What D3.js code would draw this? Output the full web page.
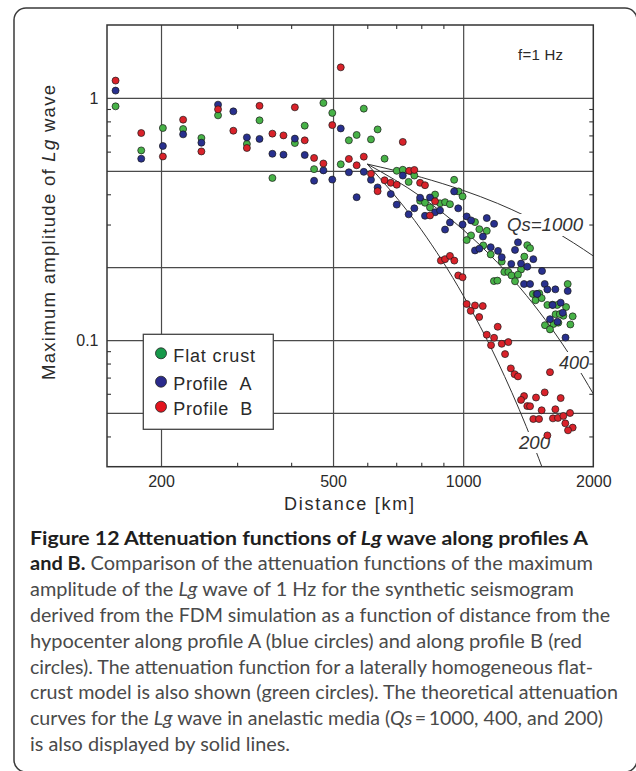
<!DOCTYPE html>
<html>
<head>
<meta charset="utf-8">
<script src="https://cdn.jsdelivr.net/npm/d3@7"></script>
<style>
  html, body { margin: 0; padding: 0; background: #fff; }
  svg { display: block; }
</style>
</head>
<body>
<svg id="chart" width="636" height="771"></svg>
<script>
// ---------------- data ----------------
const seriesNames = ["Flat crust", "Profile\u00a0\u00a0A", "Profile\u00a0\u00a0B"];

const flatDist = [157,180,202,225,248,271,316,338,362,408,430,452,475,498,589,634,567,544,612,521,658,702,725,771,748,795,816,861,838,884,908,932,953,976,997,1065,1090,1134,1043,1019,1113,1158,1228,1407,1428,1385,1361,1245,1272,1294,1339,1318,1178,1200,1745,1450,1478,1500,1470,1519,1566,1609,1650,1730,1705,1636,1673,1792,1546,1618,1660,1588,1770];
const flatAmp = [0.923,0.607,0.751,0.744,0.683,0.847,0.645,0.808,0.467,0.651,0.768,0.508,0.953,0.867,0.903,0.741,0.703,0.668,0.674,0.532,0.561,0.500,0.505,0.478,0.450,0.376,0.369,0.399,0.353,0.367,0.371,0.364,0.459,0.411,0.392,0.307,0.287,0.2825,0.2706,0.2588,0.246,0.2258,0.2109,0.2465,0.2395,0.2211,0.1957,0.1911,0.1911,0.1849,0.1863,0.1749,0.1752,0.176,0.1704,0.155,0.155,0.1558,0.146,0.149,0.1396,0.140,0.1396,0.1369,0.126,0.1278,0.128,0.1253,0.1152,0.1165,0.118,0.1107,0.116];

const profADist = [157,180,202,225,248,271,294,316,338,362,384,408,430,452,475,498,521,544,589,612,567,634,680,702,748,725,771,795,838,861,884,816,932,908,974,953,997,1019,1043,1134,1179,1111,1065,1090,1158,1204,1228,1339,1318,1453,1292,1361,1407,1522,1383,1428,1544,1566,1634,1745,1484,1611,1681,1700,1588,1652,1725];
const profAAmp = [1.072,0.561,0.633,0.707,0.653,0.938,0.880,0.687,0.677,0.588,0.583,0.679,0.581,0.455,0.502,0.460,0.748,0.493,0.495,0.459,0.389,0.427,0.401,0.3625,0.3305,0.478,0.350,0.387,0.388,0.337,0.343,0.326,0.306,0.286,0.350,0.411,0.300,0.324,0.312,0.319,0.302,0.2676,0.2345,0.2385,0.2418,0.2335,0.2199,0.2532,0.2357,0.2159,0.2063,0.207,0.201,0.1929,0.1704,0.1704,0.1704,0.1618,0.162,0.1595,0.155,0.1395,0.1427,0.1297,0.122,0.119,0.1024];

const profBDist = [157,180,202,225,248,271,294,316,338,362,384,408,430,452,475,498,521,544,567,589,612,634,658,680,702,725,750,771,795,816,861,838,888,908,932,954,974,997,1019,1065,1110,1041,1089,1202,1134,1179,1160,1228,1272,1250,1289,1315,1339,1588,1383,1361,1474,1544,1681,1407,1428,1519,1634,1453,1498,1613,1657,1705,1767,1723,1792,1748,1566];
const profBAmp = [1.179,0.716,0.573,0.813,0.601,0.897,0.732,0.621,0.927,0.712,0.700,0.914,0.668,0.565,0.536,0.772,1.337,0.560,0.527,0.572,0.486,0.412,0.457,0.446,0.438,0.658,0.500,0.504,0.446,0.436,0.374,0.327,0.2129,0.2159,0.2226,0.2129,0.1849,0.1817,0.1409,0.139,0.1382,0.132,0.1245,0.1135,0.1052,0.1022,0.0953,0.0965,0.0981,0.0875,0.0764,0.0723,0.0708,0.0737,0.0587,0.0566,0.0579,0.0608,0.0576,0.0534,0.0533,0.0513,0.0518,0.0472,0.0472,0.0475,0.0477,0.0486,0.050,0.0453,0.0435,0.0424,0.0404];

// theoretical attenuation curves
const curveDist   = [600, 800, 1000, 1200, 1400, 1600, 1800, 2000];
const qs1000Amp   = [0.533, 0.470, 0.415, 0.367, 0.324, 0.286, 0.252, 0.2225];
const qs400Amp    = [0.533, 0.390, 0.2856, 0.209, 0.153, 0.112, 0.082, 0.060];
const qs200Amp    = [0.533, 0.2856, 0.153, 0.082, 0.0439, 0.0235, null, null];
const curveLabels = ["Qs=1000", "400", "200"];

// axes
const xDomain = [150, 2000];
const yDomain = [0.03, 2];
const xTickValues = [200, 500, 1000, 2000];
const yTickValues = [0.1, 1];
const xGridValues = [200, 500, 1000];
const yGridValues = [0.05, 0.1, 0.2, 0.5, 1];
const xMinorTicks = [300, 400, 600, 700, 800, 900];
const yMinorTicks = [0.04, 0.06, 0.07, 0.08, 0.09, 0.3, 0.4, 0.6, 0.7, 0.8, 0.9];

// caption
const captionLines = [
  [["Figure 12 Attenuation functions of ", "b"], ["Lg", "bi"], [" wave along profiles A", "b"]],
  [["and B.", "b"], [" Comparison of the attenuation functions of the maximum", "r"]],
  [["amplitude of the ", "r"], ["Lg", "i"], [" wave of 1 Hz for the synthetic seismogram", "r"]],
  [["derived from the FDM simulation as a function of distance from the", "r"]],
  [["hypocenter along profile A (blue circles) and along profile B (red", "r"]],
  [["circles). The attenuation function for a laterally homogeneous flat-", "r"]],
  [["crust model is also shown (green circles). The theoretical attenuation", "r"]],
  [["curves for the ", "r"], ["Lg", "i"], [" wave in anelastic media (", "r"], ["Qs", "i"], ["\u2009=\u20091000, 400, and 200)", "r"]],
  [["is also displayed by solid lines.", "r"]]
];
const captionWidths = [558, 563, 544, 580, 552, 563, 588, 573, 260];

// ---------------- drawing ----------------
const svg = d3.select("#chart");
const plot = {left: 107, right: 593.3, top: 25, bottom: 466.7};
const x = d3.scaleLog().domain(xDomain).range([plot.left, plot.right]);
const y = d3.scaleLog().domain(yDomain).range([plot.bottom, plot.top]);
const FONT = "'Liberation Sans', Arial, Helvetica, sans-serif";
const INK = "#2a2a2a";

// outer rounded frame
svg.append("rect").attr("x", 14).attr("y", 8).attr("width", 623).attr("height", 764)
  .attr("rx", 12).attr("fill", "none").attr("stroke", "#3a3a3a").attr("stroke-width", 1.5);

// clip for curves
svg.append("defs").append("clipPath").attr("id", "plotclip")
  .append("rect").attr("x", plot.left).attr("y", plot.top)
  .attr("width", plot.right - plot.left).attr("height", plot.bottom - plot.top);

// grid
const grid = svg.append("g");
grid.append("g").attr("transform", `translate(0,${plot.bottom})`)
  .call(d3.axisBottom(x).tickValues(xGridValues).tickSize(-(plot.bottom - plot.top)).tickFormat(""))
  .call(g => g.select(".domain").remove())
  .call(g => g.selectAll("line").attr("stroke", "#4a4a4a").attr("stroke-width", 1.2));
grid.append("g").attr("transform", `translate(${plot.left},0)`)
  .call(d3.axisLeft(y).tickValues(yGridValues).tickSize(-(plot.right - plot.left)).tickFormat(""))
  .call(g => g.select(".domain").remove())
  .call(g => g.selectAll("line").attr("stroke", "#4a4a4a").attr("stroke-width", 1.2));

// curves
const curves = [qs1000Amp, qs400Amp, qs200Amp];
const line = d3.line()
  .defined(d => d[1] != null)
  .x(d => x(d[0])).y(d => y(d[1]))
  .curve(d3.curveMonotoneX);
const cg = svg.append("g").attr("clip-path", "url(#plotclip)");
curves.forEach(arr => {
  cg.append("path").datum(curveDist.map((r, i) => [r, arr[i]]))
    .attr("d", line).attr("fill", "none").attr("stroke", "#333").attr("stroke-width", 1);
});

// curve labels with white backgrounds
const labelSpecs = [
  {t: curveLabels[0], x: 507, y: 231, w: 76, bg: [505, 214, 81, 22]},
  {t: curveLabels[1], x: 559, y: 369, w: 30, bg: [556, 352, 35, 21]},
  {t: curveLabels[2], x: 519, y: 449, w: 31, bg: [516, 432, 37, 21]}
];
labelSpecs.forEach(s => {
  svg.append("rect").attr("x", s.bg[0]).attr("y", s.bg[1]).attr("width", s.bg[2]).attr("height", s.bg[3]).attr("fill", "#fff");
  svg.append("text").attr("x", s.x).attr("y", s.y).text(s.t)
    .attr("font-family", FONT).attr("font-size", 18).attr("font-style", "italic")
    .attr("fill", "#333").attr("textLength", s.w).attr("lengthAdjust", "spacingAndGlyphs");
});

// dots
const series = [
  {d: flatDist, a: flatAmp, fill: "#47b247"},
  {d: profADist, a: profAAmp, fill: "#28308e"},
  {d: profBDist, a: profBAmp, fill: "#d9222a"}
];
series.forEach(s => {
  svg.append("g").selectAll("circle").data(s.d.map((r, i) => [r, s.a[i]])).join("circle")
    .attr("cx", d => x(d[0])).attr("cy", d => y(d[1])).attr("r", 3.5)
    .attr("fill", s.fill).attr("stroke", "#1a1a1a").attr("stroke-width", 0.7);
});

// plot frame
svg.append("rect").attr("x", plot.left).attr("y", plot.top)
  .attr("width", plot.right - plot.left).attr("height", plot.bottom - plot.top)
  .attr("fill", "none").attr("stroke", "#333").attr("stroke-width", 1.5);

// minor (inner) ticks on all four sides
const tickStyle = g => { g.select(".domain").remove(); g.selectAll("line").attr("stroke", "#333").attr("stroke-width", 1.1); };
svg.append("g").attr("transform", `translate(0,${plot.bottom})`)
  .call(d3.axisBottom(x).tickValues(xMinorTicks).tickSize(-4).tickFormat("")).call(tickStyle);
svg.append("g").attr("transform", `translate(0,${plot.top})`)
  .call(d3.axisTop(x).tickValues(xMinorTicks).tickSize(-4).tickFormat("")).call(tickStyle);
svg.append("g").attr("transform", `translate(${plot.left},0)`)
  .call(d3.axisLeft(y).tickValues(yMinorTicks).tickSize(-4).tickFormat("")).call(tickStyle);
svg.append("g").attr("transform", `translate(${plot.right},0)`)
  .call(d3.axisRight(y).tickValues(yMinorTicks).tickSize(-4).tickFormat("")).call(tickStyle);

// tick labels
svg.append("g").attr("transform", `translate(0,${plot.bottom})`)
  .call(d3.axisBottom(x).tickValues(xTickValues).tickSize(0).tickPadding(9).tickFormat(d3.format("d")))
  .call(g => g.select(".domain").remove())
  .call(g => g.selectAll("text").attr("font-family", FONT).attr("font-size", 16).attr("fill", INK));
svg.append("g").attr("transform", `translate(${plot.left},0)`)
  .call(d3.axisLeft(y).tickValues(yTickValues).tickSize(0).tickPadding(8.5).tickFormat(d => d >= 1 ? "1" : "0.1"))
  .call(g => g.select(".domain").remove())
  .call(g => g.selectAll("text").attr("font-family", FONT).attr("font-size", 16).attr("fill", INK));

// axis titles
svg.append("text").attr("x", 349).attr("y", 510).attr("text-anchor", "middle")
  .attr("font-family", FONT).attr("font-size", 18).attr("fill", INK)
  .attr("textLength", 130).attr("lengthAdjust", "spacing").text("Distance [km]");
const yt = svg.append("text").attr("transform", "translate(55,232.5) rotate(-90)")
  .attr("text-anchor", "middle").attr("font-family", FONT).attr("font-size", 18.5).attr("fill", INK)
  .attr("textLength", 295).attr("lengthAdjust", "spacing");
yt.append("tspan").text("Maximum amplitude of ");
yt.append("tspan").attr("font-style", "italic").text("Lg");
yt.append("tspan").text(" wave");

// f=1 Hz
svg.append("text").attr("x", 518).attr("y", 60).attr("font-family", FONT).attr("font-size", 15)
  .attr("fill", INK).attr("textLength", 45).attr("lengthAdjust", "spacing").text("f=1 Hz");

// legend
const lg = svg.append("g");
lg.append("rect").attr("x", 143.3).attr("y", 334.3).attr("width", 130).attr("height", 95)
  .attr("fill", "#fff").attr("stroke", "#444").attr("stroke-width", 1.3);
const legendColors = ["#17994a", "#2a2a8c", "#e3141e"];
const legendCy = [353.3, 381.7, 406.7];
const legendBase = [361.7, 390, 415];
const legendW = [81.7, 78.3, 79];
seriesNames.forEach((n, i) => {
  lg.append("circle").attr("cx", 161).attr("cy", legendCy[i]).attr("r", 5.5)
    .attr("fill", legendColors[i]).attr("stroke", "#222").attr("stroke-width", 0.8);
  lg.append("text").attr("x", 173.3).attr("y", legendBase[i]).attr("font-family", FONT)
    .attr("font-size", 18).attr("fill", INK).attr("textLength", legendW[i]).attr("lengthAdjust", "spacing").text(n);
});

// caption
const CAP = "Lato, 'Open Sans', sans-serif";
captionLines.forEach((segs, i) => {
  const t = svg.append("text").attr("x", 30).attr("y", 544.5 + i * 25.8)
    .attr("font-family", CAP).attr("font-size", 18.5)
    .attr("textLength", captionWidths[i]).attr("lengthAdjust", "spacingAndGlyphs");
  segs.forEach(([txt, st]) => {
    const ts = t.append("tspan").text(txt);
    if (st.includes("b")) ts.attr("font-weight", "bold").attr("fill", "#1e1e1e");
    else ts.attr("fill", "#4a4a4a");
    if (st.includes("i")) ts.attr("font-style", "italic");
  });
});
</script>
</body>
</html>
